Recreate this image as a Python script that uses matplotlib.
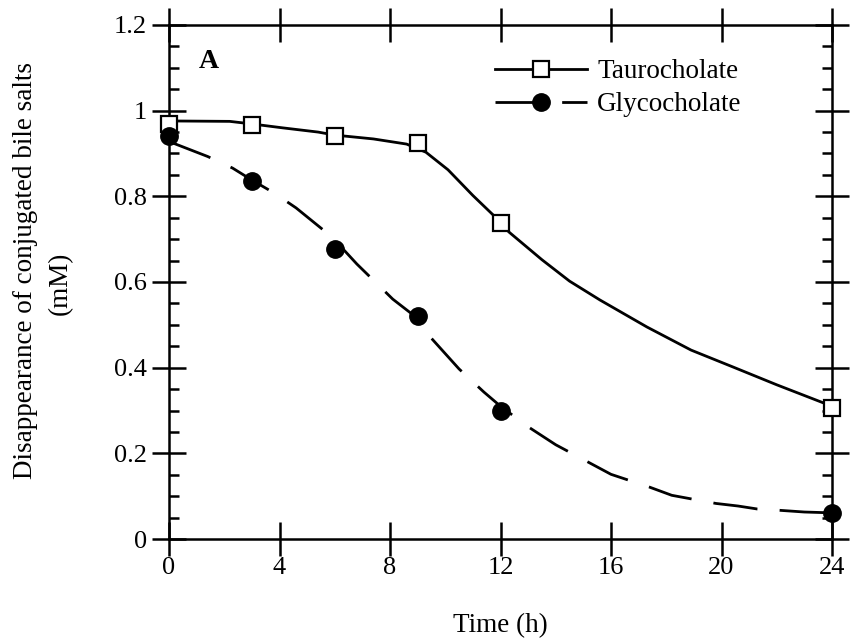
import matplotlib.pyplot as plt
from matplotlib.ticker import MultipleLocator

plt.rcParams["font.family"] = ["Liberation Serif", "DejaVu Serif"]

# Measured points
time_h = [0, 3, 6, 9, 12, 24]
tauro = [0.97, 0.967, 0.942, 0.925, 0.738, 0.306]
glyco = [0.942, 0.836, 0.678, 0.521, 0.298, 0.061]

# Fitted curves
tauro_fit_t = [0, 2.2, 3, 4.1, 5.4, 6, 7.4, 8.6, 9.3, 10.1, 11, 12, 12.3, 13.5,
               14.5, 15.6, 17.3, 18.9, 20.4, 22.0, 24]
tauro_fit = [0.976, 0.975, 0.969, 0.96, 0.95, 0.943, 0.934, 0.922, 0.903, 0.862,
             0.802, 0.74, 0.717, 0.652, 0.602, 0.558, 0.495, 0.441, 0.402, 0.36, 0.31]
glyco_fit_t = [0, 1.4, 2.3, 3, 3.8, 4.6, 5.9, 6.8, 8.1, 9, 9.2, 10.5, 11.4, 12,
               13.0, 14.0, 16.0, 17.4, 18.2, 19.8, 20.6, 21.3, 22.1, 23, 24]
glyco_fit = [0.928, 0.893, 0.866, 0.838, 0.808, 0.773, 0.705, 0.642, 0.56, 0.515,
             0.49, 0.397, 0.343, 0.31, 0.262, 0.22, 0.151, 0.121, 0.102, 0.083,
             0.077, 0.07, 0.067, 0.063, 0.061]

fs = 19.5

fig = plt.figure(figsize=(8.5, 6.43), dpi=100)
ax = fig.add_axes([169 / 850, 1 - 539 / 643, 663 / 850, 514 / 643])

ax.plot(tauro_fit_t, tauro_fit, color="black", lw=2.0, zorder=2)
ax.plot(glyco_fit_t, glyco_fit, color="black", lw=2.0, dashes=(16, 8), zorder=2)
ax.plot(time_h, tauro, ls="none", marker="s", ms=11, mfc="white", mec="black",
        mew=1.6, zorder=3, clip_on=False)
ax.plot(time_h, glyco, ls="none", marker="o", ms=12.5, color="black",
        zorder=3, clip_on=False)

# Legend handles
h1, = ax.plot([], [], color="black", lw=2.0, marker="s", ms=11, mfc="white",
              mec="black", mew=1.6)
h2, = ax.plot([], [], color="black", lw=2.0, dashes=(16, 8), marker="o", ms=12.5)
ax.legend([h1, h2], ["Taurocholate", "Glycocholate"], loc="upper left",
          bbox_to_anchor=(495 / 850, 1 - 59 / 643), bbox_transform=fig.transFigure,
          frameon=False, fontsize=fs, handlelength=3.4, handletextpad=0.37,
          borderpad=0, borderaxespad=0, labelspacing=0.3)

ax.set_xlim(0, 24)
ax.set_ylim(0, 1.2)
ax.xaxis.set_major_locator(MultipleLocator(4))
ax.yaxis.set_major_locator(MultipleLocator(0.2))
ax.yaxis.set_minor_locator(MultipleLocator(0.05))
ax.yaxis.set_major_formatter(plt.FuncFormatter(lambda v, p: f"{v:g}"))

for s in ax.spines.values():
    s.set_linewidth(1.8)
ax.tick_params(which="major", direction="inout", length=24, width=1.8,
               labelsize=19, top=True, right=True)
ax.tick_params(axis="y", which="major", pad=4)
ax.tick_params(axis="x", which="major", pad=1)
ax.tick_params(which="minor", direction="in", length=7, width=1.8, right=True)
ax.tick_params(axis="x", which="minor", bottom=False, top=False)

ax.text(1.45, 1.114, "A", fontsize=20, fontweight="bold", ha="center", va="center")

fig.text(500 / 850, 1 - 626 / 643, "Time (h)", fontsize=fs, ha="center", va="center")
fig.text(26 / 850, 1 - 270 / 643, "Disappearance of conjugated bile salts",
         fontsize=fs, rotation=90, ha="center", va="center")
fig.text(60 / 850, 1 - 283 / 643, "(mM)", fontsize=fs, rotation=90,
         ha="center", va="center")

fig.savefig("out.png", dpi=100)
